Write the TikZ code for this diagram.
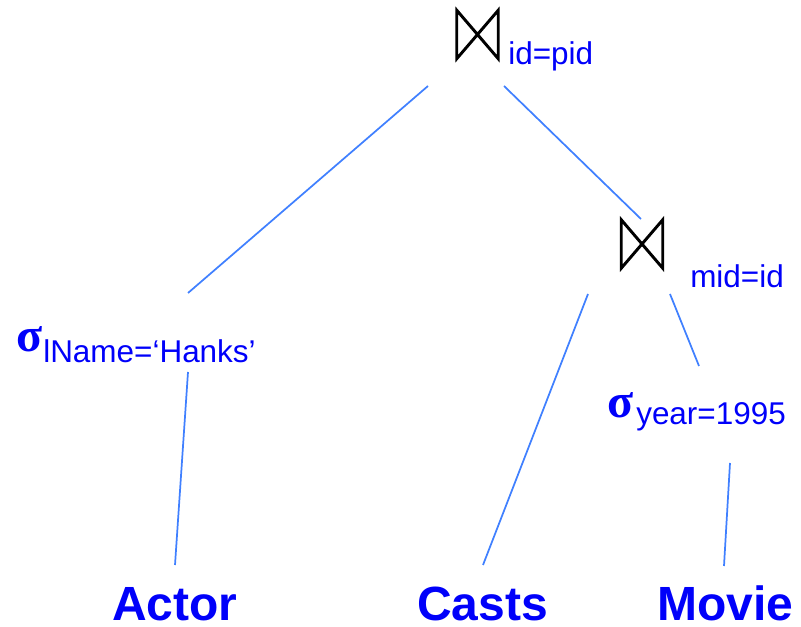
\documentclass[tikz,border=0pt]{standalone}
\usepackage{fontspec}
\setmainfont{Liberation Sans}
\newfontfamily\greekfont{Liberation Serif}
\definecolor{edgeblue}{RGB}{64,128,255}
\definecolor{textblue}{RGB}{0,0,250}
\begin{document}
\begin{tikzpicture}[x=0.75pt,y=-0.75pt,
  lbl/.style={anchor=base west,inner sep=0,text=textblue,font=\fontsize{23.6pt}{26pt}\selectfont},
  sig/.style={anchor=base west,inner sep=0,text=textblue,font=\greekfont\bfseries\fontsize{36pt}{38pt}\selectfont},
  rel/.style={anchor=base west,inner sep=0,text=textblue,font=\bfseries\fontsize{36pt}{40pt}\selectfont},
  bowtie/.style={inner sep=0,minimum width=30.75pt,minimum height=36pt},
  tie/.style={draw=black,line width=2.2pt,line join=miter},
  edge/.style={draw=edgeblue,line width=1.3pt}]
\useasboundingbox (0,0) rectangle (801,627);

% join operators
\node[bowtie] (j1) at (477.5,34.5) {};
\draw[tie] (j1.north west)--(j1.south west)--(j1.north east)--(j1.south east)--cycle;
\node[lbl] (j1c) at (508,65) {id=pid};

\node[bowtie] (j2) at (642,244) {};
\draw[tie] (j2.north west)--(j2.south west)--(j2.north east)--(j2.south east)--cycle;
\node[lbl] (j2c) at (690,288) {mid=id};

% selections
\node[sig] (s1) at (16,352) {σ};
\node[lbl] (s1c) at (43,363) {lName=‘Hanks’};
\node[sig] (s2) at (607,418) {σ};
\node[lbl] (s2c) at (636,425) {year=1995};

% base relations
\node[rel] (actor) at (112,621) {Actor};
\node[rel] (casts) at (417,621) {Casts};
\node[rel] (movie) at (657,621) {Movie};

% edge end points
\coordinate (j1l) at (428,86);
\coordinate (j1r) at (504,86);
\coordinate (s1t) at (188,293);
\coordinate (j2t) at (641,219);
\coordinate (s1b) at (188,372);
\coordinate (actort) at (175,565);
\coordinate (j2l) at (588,294);
\coordinate (castst) at (483,565);
\coordinate (j2r) at (670,294);
\coordinate (s2t) at (699,366);
\coordinate (s2b) at (730,463);
\coordinate (moviet) at (724,566);

\draw[edge] (j1l) -- (s1t);
\draw[edge] (j1r) -- (j2t);
\draw[edge] (s1b) -- (actort);
\draw[edge] (j2l) -- (castst);
\draw[edge] (j2r) -- (s2t);
\draw[edge] (s2b) -- (moviet);
\end{tikzpicture}
\end{document}
